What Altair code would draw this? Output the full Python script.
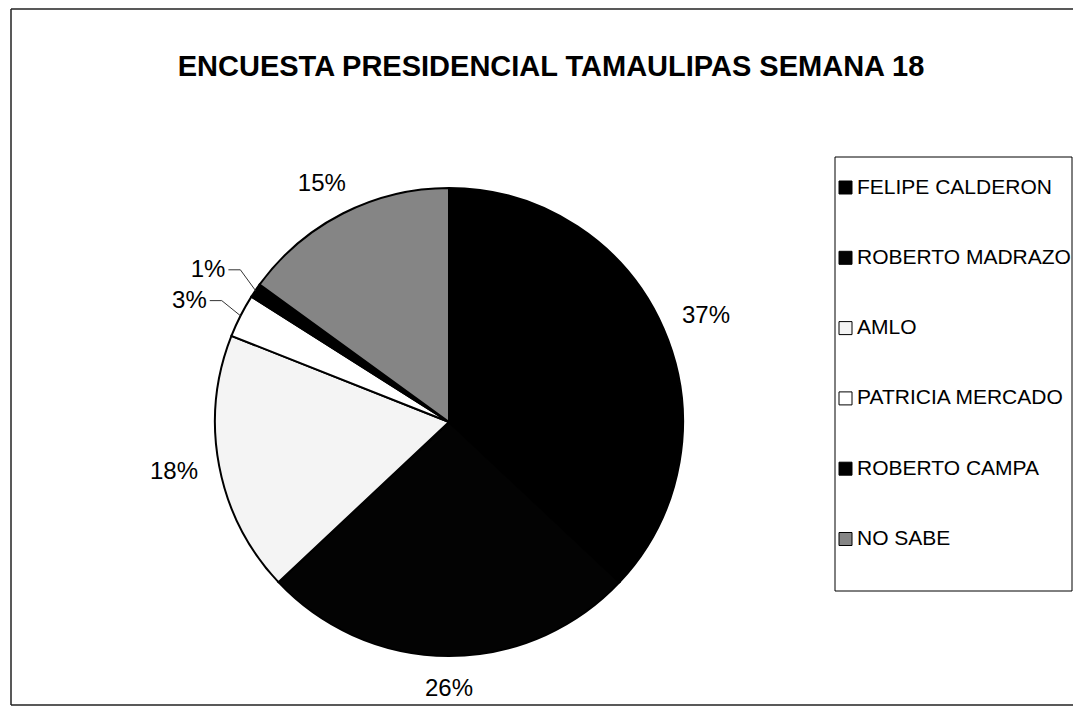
import altair as alt
import pandas as pd
import numpy as np

# ---- data ----
names = ["FELIPE CALDERON", "ROBERTO MADRAZO", "AMLO", "PATRICIA MERCADO", "ROBERTO CAMPA", "NO SABE"]
values = [37, 26, 18, 3, 1, 15]
fills = ["#000000", "#030303", "#f4f4f4", "#ffffff", "#000000", "#858585"]
title_text = "ENCUESTA PRESIDENCIAL TAMAULIPAS SEMANA 18"

# ---- layout constants ----
W, H = 1065, 698
CX, CY, R = 441, 414, 234
FONT = "Liberation Sans"
LABEL_SIZE = 24

df = pd.DataFrame({"name": names, "value": values, "order": list(range(len(names)))})
df["label"] = df["value"].astype(str) + "%"
total = df["value"].sum()
start = df["value"].cumsum() - df["value"]
mid = (start + df["value"] / 2) / total * 2 * np.pi
ux = np.sin(mid)
uy = -np.cos(mid)
hw = 0.5 * LABEL_SIZE * (0.556 * df["value"].astype(str).str.len() + 0.889)
hh = 11
small = df["value"] < 5
gap = np.where(small, 40, 22)
df["lx"] = CX + (R + gap + hw) * ux
df["ly"] = CY + (R + gap + hh) * uy + np.where(small, 8, 0)

# leader lines for the small slices
ex = CX + R * ux
ey = CY + R * uy
seg_rows = []
for i in df.index[small]:
    lr = df.loc[i, "lx"] + hw[i] + 3
    elbow = lr + 12
    ly = df.loc[i, "ly"]
    seg_rows.append({"x": lr, "y": ly, "x2": elbow, "y2": ly})
    seg_rows.append({"x": elbow, "y": ly, "x2": ex[i], "y2": ey[i]})
seg = pd.DataFrame(seg_rows)

legend = alt.Legend(
    title=None, orient="none", legendX=827, legendY=169,
    symbolType="square", symbolSize=169, symbolStrokeColor="black",
    symbolStrokeWidth=1, symbolOpacity=1,
    labelFont=FONT, labelFontSize=21, labelColor="black", labelOffset=1,
    labelLimit=400, rowPadding=48.3, padding=0,
)

pie = alt.Chart(df).mark_arc(outerRadius=R, stroke="black", strokeWidth=2).encode(
    theta=alt.Theta("value:Q", stack=True),
    order=alt.Order("order:Q"),
    color=alt.Color("name:N", scale=alt.Scale(domain=names, range=fills), sort=names, legend=legend),
    x=alt.value(CX),
    y=alt.value(CY),
)

labels = alt.Chart(df).mark_text(font=FONT, fontSize=LABEL_SIZE, color="black",
                                 align="center", baseline="middle").encode(
    x=alt.X("lx:Q", scale=None),
    y=alt.Y("ly:Q", scale=None),
    text="label:N",
)

leaders = alt.Chart(seg).mark_rule(color="#333333", strokeWidth=1).encode(
    x=alt.X("x:Q", scale=None), y=alt.Y("y:Q", scale=None),
    x2="x2:Q", y2="y2:Q",
)

title = alt.Chart(pd.DataFrame({"t": [title_text]})).mark_text(
    font=FONT, fontSize=29, fontWeight="bold", color="black",
    align="center", baseline="alphabetic",
).encode(x=alt.value(543), y=alt.value(68), text="t:N")

legend_box = alt.Chart(pd.DataFrame({"a": [0]})).mark_rect(
    fill="white", stroke="black", strokeWidth=1
).encode(x=alt.value(827), x2=alt.value(1064), y=alt.value(149), y2=alt.value(583))

frame_top = alt.Chart(pd.DataFrame({"a": [0]})).mark_rule(color="#222222", strokeWidth=1.5).encode(
    x=alt.value(3), x2=alt.value(W), y=alt.value(1), y2=alt.value(1))
frame_left = alt.Chart(pd.DataFrame({"a": [0]})).mark_rule(color="#222222", strokeWidth=1.5).encode(
    x=alt.value(3), x2=alt.value(3), y=alt.value(1), y2=alt.value(H - 1))
frame_bottom = alt.Chart(pd.DataFrame({"a": [0]})).mark_rule(color="#222222", strokeWidth=1.5).encode(
    x=alt.value(3), x2=alt.value(W), y=alt.value(H - 1), y2=alt.value(H - 1))

chart = alt.layer(
    frame_top, frame_left, frame_bottom, legend_box, pie, leaders, labels, title
).properties(
    width=W, height=H, padding=0, autosize=alt.AutoSizeParams(type="none"),
    background="white",
).configure_view(stroke=None)

chart.save("out.html", embed_options={"renderer": "svg", "actions": False})
